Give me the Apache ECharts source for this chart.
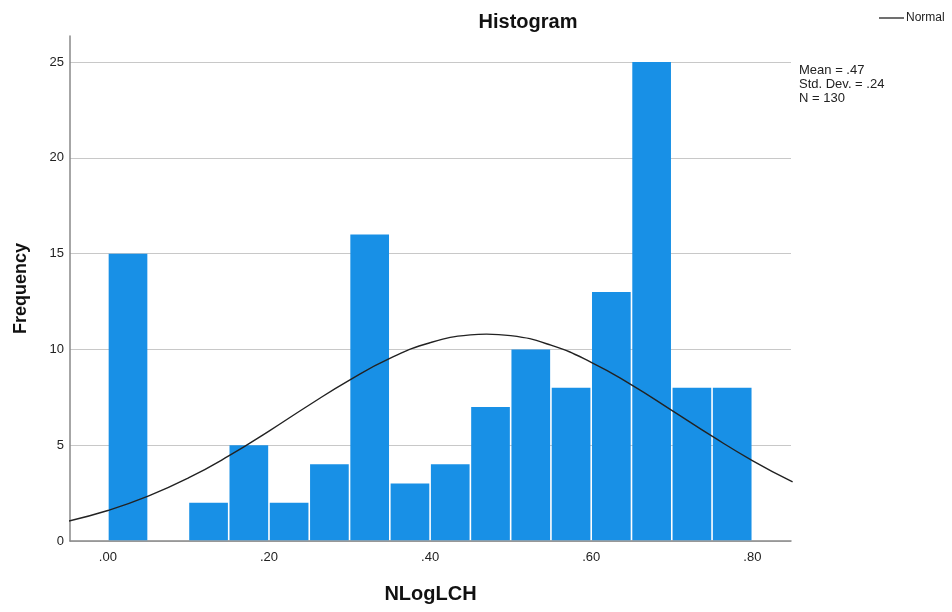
<!DOCTYPE html>
<html>
<head>
<meta charset="utf-8">
<script src="https://cdn.jsdelivr.net/npm/echarts@6/dist/echarts.min.js"></script>
<style>
  html, body { margin: 0; padding: 0; background: #fff; }
  #chart { width: 952px; height: 612px; }
</style>
</head>
<body>
<div id="chart"></div>
<script>
// Histogram bins of NLogLCH (width .05) and their frequencies
const binStarts = [0.00, 0.05, 0.10, 0.15, 0.20, 0.25, 0.30, 0.35, 0.40, 0.45, 0.50, 0.55, 0.60, 0.65, 0.70, 0.75];
const frequencies = [15, 0, 2, 5, 2, 4, 16, 3, 4, 7, 10, 8, 13, 25, 8, 8];
const binWidth = 0.05;

// Fitted normal curve (expected counts per bin)
const curveX = [-0.05, 0.00, 0.05, 0.10, 0.15, 0.20, 0.25, 0.30, 0.35, 0.40, 0.45, 0.47, 0.50, 0.55, 0.60, 0.65, 0.70, 0.75, 0.80, 0.85];
const curveY = [1.03, 1.59, 2.34, 3.29, 4.44, 5.74, 7.10, 8.40, 9.53, 10.35, 10.76, 10.80, 10.72, 10.22, 9.33, 8.15, 6.82, 5.47, 4.20, 3.08];

const xTicks = [0, 0.2, 0.4, 0.6, 0.8];
const yTicks = [0, 5, 10, 15, 20, 25];
const statsLines = ['Mean = .47', 'Std. Dev. = .24', 'N = 130'];

const font = '"Liberation Sans", Arial, sans-serif';

const barData = binStarts.map((s, i) => [s, s + binWidth, frequencies[i]]);
const curveData = curveX.map((x, i) => [x, curveY[i]]);

const chart = echarts.init(document.getElementById('chart'), null, { renderer: 'canvas' });

chart.setOption({
  backgroundColor: '#ffffff',
  animation: false,
  title: {
    text: 'Histogram',
    left: 523,
    top: 7,
    textAlign: 'center',
    textStyle: { fontFamily: font, fontSize: 20, fontWeight: 'bold', color: '#111' }
  },
  grid: { left: 70, right: 161, top: 36, bottom: 71, outerBoundsMode: 'none' },
  xAxis: {
    type: 'value',
    min: -0.047,
    max: 0.848,
    name: 'NLogLCH',
    nameLocation: 'middle',
    nameGap: 43,
    nameTextStyle: { fontFamily: font, fontSize: 20, fontWeight: 'bold', color: '#111' },
    axisLine: { show: true, onZero: false, lineStyle: { color: '#888', width: 1.5 } },
    axisTick: { show: false, customValues: xTicks },
    splitLine: { show: false },
    axisLabel: {
      customValues: xTicks,
      formatter: v => '.' + Math.round(v * 100).toString().padStart(2, '0'),
      fontFamily: font, fontSize: 13, color: '#222', margin: 10
    }
  },
  yAxis: {
    type: 'value',
    min: 0,
    max: 26.36,
    name: 'Frequency',
    nameLocation: 'middle',
    nameGap: 40,
    nameTextStyle: { fontFamily: font, fontSize: 18, fontWeight: 'bold', color: '#111' },
    axisLine: { show: true, onZero: false, lineStyle: { color: '#888', width: 1.5 } },
    axisTick: { show: false, customValues: yTicks },
    axisLabel: {
      customValues: yTicks,
      fontFamily: font, fontSize: 13, color: '#222', margin: 6
    },
    splitLine: { show: true, lineStyle: { color: '#c8c8c8', width: 1.2 } }
  },
  graphic: [
    {
      type: 'line',
      shape: { x1: 879, y1: 18, x2: 904, y2: 18 },
      style: { stroke: '#222', lineWidth: 1.3 }
    },
    {
      type: 'text',
      left: 906,
      top: 12,
      style: { text: 'Normal', fontFamily: font, fontSize: 12, fill: '#222' }
    },
    {
      type: 'text',
      left: 799,
      top: 63,
      style: {
        text: statsLines.join('\n'),
        fontFamily: font,
        fontSize: 13,
        lineHeight: 14,
        fill: '#222'
      }
    }
  ],
  series: [
    {
      type: 'custom',
      name: 'Frequency',
      data: barData,
      encode: { x: [0, 1], y: 2 },
      renderItem: function (params, api) {
        const top = api.coord([api.value(0), api.value(2)]);
        const base = api.coord([api.value(1), 0]);
        // leave a thin white gap between neighbouring bars; sit on the axis line
        const gap = 0.8;
        const h = base[1] - top[1] - 0.75;
        if (h <= 0) return null;
        return {
          type: 'rect',
          shape: { x: top[0] + gap, y: top[1], width: base[0] - top[0] - 2 * gap, height: h },
          style: { fill: '#1890e6' }
        };
      },
      z: 2
    },
    {
      type: 'line',
      name: 'Normal',
      data: curveData,
      smooth: true,
      showSymbol: false,
      clip: true,
      color: '#222',
      lineStyle: { color: '#222', width: 1.4 },
      z: 3
    }
  ]
});
</script>
</body>
</html>
